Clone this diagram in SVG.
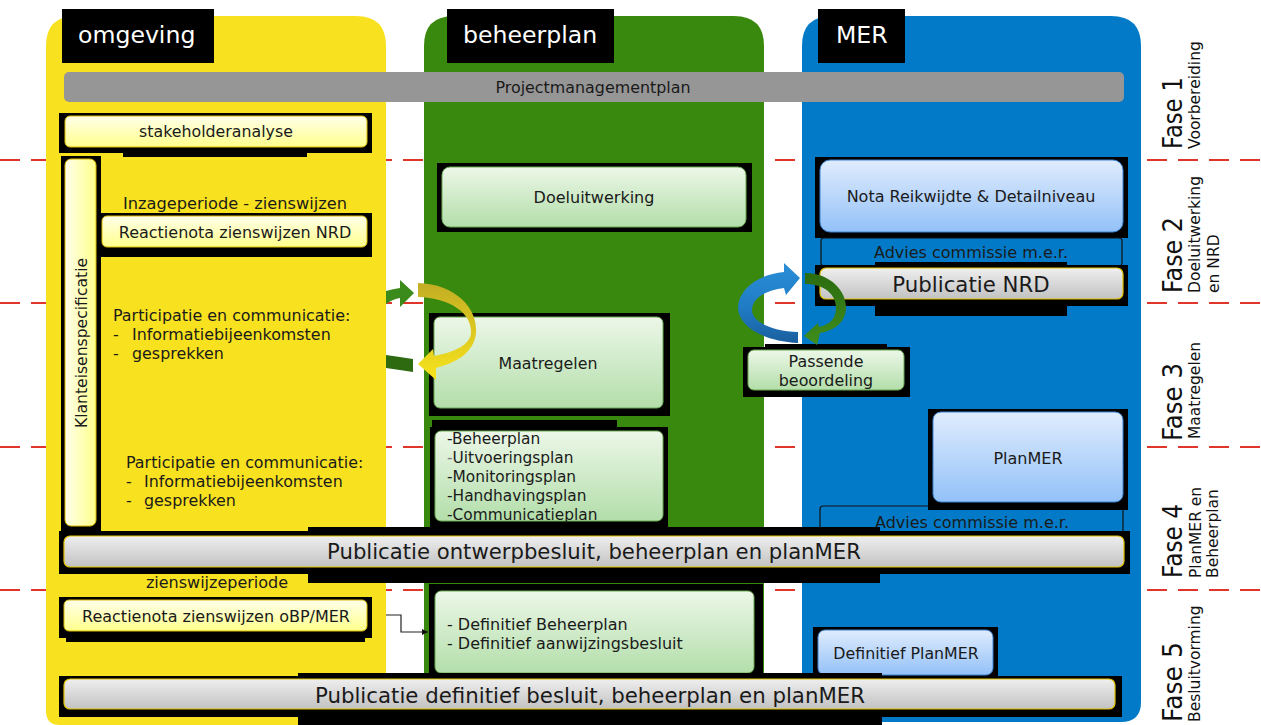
<svg xmlns="http://www.w3.org/2000/svg" width="1261" height="725" viewBox="0 0 1261 725">
<style>
.t{font-family:"DejaVu Sans",Verdana,sans-serif;fill:#1a1a1a}
.hd{font-family:"DejaVu Sans",Verdana,sans-serif;fill:#ffffff;font-size:23.6px}
.blk{fill:#000}
.by{fill:url(#gY);stroke:#dcbc00;stroke-width:1}
.bg{fill:url(#gG);stroke:#6aab52;stroke-width:1}
.bb{fill:url(#gB);stroke:#3a84d6;stroke-width:1}
.bgr{fill:url(#gGray);stroke:#e2c400;stroke-width:1.2}
.dash{stroke:#e0352b;stroke-width:2;stroke-dasharray:20 11;fill:none}
.fase{font-family:"DejaVu Sans",Verdana,sans-serif;fill:#111;font-size:26px}
.sub{font-family:"DejaVu Sans",Verdana,sans-serif;fill:#111;font-size:15.5px}
</style>
<defs>
<linearGradient id="gY" x1="0" y1="0" x2="0" y2="1"><stop offset="0" stop-color="#ffffea"/><stop offset="1" stop-color="#ffff8c"/></linearGradient>
<linearGradient id="gYv" x1="0" y1="0" x2="1" y2="0"><stop offset="0" stop-color="#ffffea"/><stop offset="1" stop-color="#ffff8c"/></linearGradient>
<linearGradient id="gG" x1="0" y1="0" x2="0" y2="1"><stop offset="0" stop-color="#ecf7e8"/><stop offset="1" stop-color="#b3deaa"/></linearGradient>
<linearGradient id="gB" x1="0" y1="0" x2="0" y2="1"><stop offset="0" stop-color="#e0ecfd"/><stop offset="1" stop-color="#93c1f8"/></linearGradient>
<linearGradient id="gGray" x1="0" y1="0" x2="0" y2="1"><stop offset="0" stop-color="#efefef"/><stop offset="1" stop-color="#c2c2c2"/></linearGradient>
<linearGradient id="gArcY" x1="0" y1="0" x2="0" y2="1"><stop offset="0" stop-color="#c2ad24"/><stop offset="1" stop-color="#f8e41c"/></linearGradient>
<linearGradient id="gArcB" x1="0" y1="0" x2="0" y2="1"><stop offset="0" stop-color="#2a8fd8"/><stop offset="0.55" stop-color="#1f7cc4"/><stop offset="1" stop-color="#1a5f9e"/></linearGradient>
<linearGradient id="gArcG" x1="0" y1="0" x2="0" y2="1"><stop offset="0" stop-color="#2c6c10"/><stop offset="1" stop-color="#3f8d1c"/></linearGradient>
<marker id="ah" markerWidth="8" markerHeight="8" refX="6" refY="3" orient="auto" markerUnits="userSpaceOnUse"><path d="M0,0 L6,3 L0,6 Z" fill="#111"/></marker>
</defs>

<g id="phase-lines">
<line class="dash" x1="0" y1="160" x2="1261" y2="160"/>
<line class="dash" x1="0" y1="303" x2="1261" y2="303"/>
<line class="dash" x1="0" y1="447" x2="1261" y2="447"/>
<line class="dash" x1="0" y1="590" x2="1261" y2="590"/>
</g>

<g id="lane-omgeving">
<path d="M46,46 Q46,16 76,16 H356 Q386,16 386,46 V711 Q386,725 372,725 H60 Q46,725 46,711 Z" fill="#f8e11f"/>
<rect class="blk" x="62" y="9" width="152" height="54"/>
<text class="hd" x="78" y="43">omgeving</text>
</g>
<g id="lane-beheerplan">
<path d="M424,46 Q424,16 454,16 H734 Q764,16 764,46 V700 H424 Z" fill="#3a890f"/>
<rect class="blk" x="447" y="9" width="167" height="54"/>
<text class="hd" x="463" y="43">beheerplan</text>
</g>
<g id="lane-mer">
<path d="M802,46 Q802,16 832,16 H1111 Q1141,16 1141,46 V702 Q1141,722 1121,722 H802 Z" fill="#027ac8"/>
<rect class="blk" x="818" y="9" width="87" height="54"/>
<text class="hd" x="836" y="43">MER</text>
</g>

<g id="projectmanagementplan">
<rect x="64" y="72" width="1060" height="30" rx="5" fill="#969696"/>
<text class="t" x="593" y="93" font-size="15.9" text-anchor="middle">Projectmanagementplan</text>
</g>

<g id="stakeholderanalyse">
<rect class="blk" x="59" y="113" width="313" height="40"/>
<rect class="blk" x="123" y="150" width="184" height="7"/>
<rect class="by" x="65" y="116" width="302" height="31" rx="5"/>
<text class="t" x="216" y="137" font-size="15.8" text-anchor="middle">stakeholderanalyse</text>
</g>

<g id="klanteisenspecificatie">
<rect class="blk" x="61" y="156" width="40" height="377"/>
<rect x="65" y="159" width="31" height="367" rx="6" fill="url(#gYv)" stroke="#dcbc00"/>
<text class="t" transform="translate(87,343) rotate(-90)" font-size="15.6" text-anchor="middle">Klanteisenspecificatie</text>
</g>

<g id="inzageperiode">
<text class="t" x="235" y="209" font-size="16.2" text-anchor="middle">Inzageperiode - zienswijzen</text>
</g>

<g id="reactienota-nrd">
<rect class="blk" x="101" y="213" width="271" height="44"/>
<rect class="by" x="102" y="216" width="265" height="31" rx="5"/>
<text class="t" x="235" y="237.5" font-size="16" text-anchor="middle">Reactienota zienswijzen NRD</text>
</g>

<g id="participatie-1">
<text class="t" font-size="15.9"><tspan x="113" y="321">Participatie en communicatie:</tspan><tspan x="113" y="340">-</tspan><tspan x="132" y="340">Informatiebijeenkomsten</tspan><tspan x="113" y="359">-</tspan><tspan x="132" y="359">gesprekken</tspan></text>
</g>

<g id="participatie-2">
<text class="t" font-size="15.9"><tspan x="126" y="468">Participatie en communicatie:</tspan><tspan x="126" y="487">-</tspan><tspan x="144" y="487">Informatiebijeenkomsten</tspan><tspan x="126" y="506">-</tspan><tspan x="144" y="506">gesprekken</tspan></text>
</g>

<g id="doeluitwerking">
<rect class="blk" x="437" y="163" width="315" height="69"/>
<rect class="bg" x="442" y="167" width="304" height="60" rx="8"/>
<text class="t" x="594" y="202.5" font-size="16" text-anchor="middle">Doeluitwerking</text>
</g>

<g id="maatregelen">
<rect class="blk" x="429" y="313" width="241" height="103"/>
<rect class="bg" x="434" y="317" width="229" height="91" rx="6"/>
<text class="t" x="548" y="368.5" font-size="15.8" text-anchor="middle">Maatregelen</text>
</g>

<g id="plannen">
<rect class="blk" x="432" y="420" width="185" height="8"/>
<rect class="blk" x="430" y="427" width="238" height="101"/>
<rect class="bg" x="435" y="431" width="228" height="90" rx="6"/>
<text class="t" font-size="15.4"><tspan x="447" y="444">-Beheerplan</tspan><tspan x="447" y="463"><tspan fill="#777">-</tspan>Uitvoeringsplan</tspan><tspan x="447" y="482">-Monitoringsplan</tspan><tspan x="447" y="501">-Handhavingsplan</tspan><tspan x="447" y="520">-Communicatieplan</tspan></text>
</g>

<g id="nota-reikwijdte">
<rect class="blk" x="815" y="157" width="313" height="81"/>
<rect class="bb" x="820" y="160" width="303" height="72" rx="10"/>
<text class="t" x="971" y="201.5" font-size="16" text-anchor="middle">Nota Reikwijdte &amp; Detailniveau</text>
</g>

<g id="advies-1">
<rect x="821" y="238" width="301" height="28" rx="3" fill="none" stroke="#111" stroke-width="1.2"/>
<text class="t" x="971" y="257.5" font-size="16" text-anchor="middle">Advies commissie m.e.r.</text>
</g>

<g id="publicatie-nrd">
<rect class="blk" x="875" y="262" width="192" height="5"/>
<rect class="blk" x="815" y="265" width="313" height="41"/>
<rect class="blk" x="875" y="304" width="192" height="12"/>
<rect class="bgr" x="820" y="268" width="303" height="31" rx="6"/>
<text class="t" x="971" y="292" font-size="21.3" text-anchor="middle">Publicatie NRD</text>
</g>

<g id="passende-beoordeling">
<rect class="blk" x="765" y="344" width="122" height="5"/>
<rect class="blk" x="743" y="347" width="167" height="50"/>
<rect class="bg" x="748" y="350" width="156" height="40" rx="6"/>
<text class="t" x="826" y="367" font-size="15.9" text-anchor="middle">Passende</text>
<text class="t" x="826" y="386" font-size="15.9" text-anchor="middle">beoordeling</text>
</g>

<g id="advies-2">
<rect x="820" y="506" width="303" height="30" rx="3" fill="none" stroke="#111" stroke-width="1.2"/>
<text class="t" x="972" y="527.5" font-size="16" text-anchor="middle">Advies commissie m.e.r.</text>
</g>

<g id="planmer">
<rect class="blk" x="928" y="409" width="200" height="101"/>
<rect class="bb" x="933" y="412" width="190" height="90" rx="8"/>
<text class="t" x="1028" y="463.5" font-size="16" text-anchor="middle">PlanMER</text>
</g>

<g id="publicatie-ontwerpbesluit">
<rect class="blk" x="59" y="531" width="1071" height="43"/>
<rect class="blk" x="308" y="527" width="572" height="56"/>
<rect class="bgr" x="64" y="536" width="1060" height="31" rx="6"/>
<text class="t" x="594" y="558.5" font-size="21.2" text-anchor="middle">Publicatie ontwerpbesluit, beheerplan en planMER</text>
</g>

<g id="zienswijzeperiode">
<text class="t" x="217" y="587.5" font-size="16" text-anchor="middle">zienswijzeperiode</text>
</g>

<g id="reactienota-obp">
<rect class="blk" x="59" y="597" width="313" height="41"/>
<rect class="blk" x="66" y="636" width="299" height="6"/>
<rect class="by" x="64" y="600" width="303" height="31" rx="5"/>
<text class="t" x="216" y="621.5" font-size="16" text-anchor="middle">Reactienota zienswijzen oBP/MER</text>
</g>

<g id="definitief-beheerplan">
<rect class="blk" x="429" y="584" width="334" height="92"/>
<rect class="bg" x="435" y="591" width="319" height="82" rx="6"/>
<text class="t" font-size="16"><tspan x="447" y="630">- Definitief Beheerplan</tspan><tspan x="447" y="649">- Definitief aanwijzingsbesluit</tspan></text>
</g>

<g id="definitief-planmer">
<rect class="blk" x="813" y="627" width="185" height="49"/>
<rect class="bb" x="818" y="630" width="175" height="45" rx="7"/>
<text class="t" x="906" y="659" font-size="15.8" text-anchor="middle">Definitief PlanMER</text>
</g>

<g id="publicatie-definitief">
<rect class="blk" x="59" y="676" width="1063" height="41"/>
<rect class="blk" x="298" y="673" width="584" height="52"/>
<rect class="bgr" x="64" y="679" width="1051" height="30" rx="6"/>
<text class="t" x="590" y="702.5" font-size="21.3" text-anchor="middle">Publicatie definitief besluit, beheerplan en planMER</text>
</g>

<g id="connectors">
<path d="M386,615 H401 V632 H428" fill="none" stroke="#222" stroke-width="1.2" marker-end="url(#ah)"/>
<path d="M386,291 Q393,289 400,288 L400,280 L414,293 L400,307 L400,298 Q393,299 386,304 Z" fill="#3b8a1c"/>
<path d="M386,355 Q400,357 413,359 L413,372 Q400,370 386,368 Z" fill="#2e6a10"/>
<path d="M418,283 C455,284 478,308 476,333 C474,352 458,362 436,368 L436,380 L418,364 L433,349 L434,356 C455,352 470,345 471,333 C472,313 450,298 418,297 Z" fill="url(#gArcY)"/>
<path d="M784,272 C760,274 739,288 738,307 C738,326 762,341 798,343 L798,332 C772,331 752,322 752,310 C752,298 766,290 784,288 L786,295 L800,278 L784,263 Z" fill="url(#gArcB)"/>
<path d="M805,273 C830,273 847,291 846,309 C845,322 836,330 820,333 L817,345 L804,336 L818,323 L819,327 C830,325 836,318 836,308 C836,294 824,284 805,284 Z" fill="url(#gArcG)"/>
</g>

<g id="phase-labels">
<text class="fase" transform="translate(1182,149) rotate(-90)" textLength="72" lengthAdjust="spacingAndGlyphs">Fase 1</text>
<text class="sub" transform="translate(1200,149) rotate(-90)">Voorbereiding</text>
<text class="fase" transform="translate(1182,293) rotate(-90)" textLength="76" lengthAdjust="spacingAndGlyphs">Fase 2</text>
<text class="sub" transform="translate(1200,293) rotate(-90)">Doeluitwerking</text>
<text class="sub" transform="translate(1219,293) rotate(-90)">en NRD</text>
<text class="fase" transform="translate(1182,441) rotate(-90)" textLength="78" lengthAdjust="spacingAndGlyphs">Fase 3</text>
<text class="sub" transform="translate(1200,439) rotate(-90)">Maatregelen</text>
<text class="fase" transform="translate(1182,578) rotate(-90)" textLength="74" lengthAdjust="spacingAndGlyphs">Fase 4</text>
<text class="sub" transform="translate(1201,578) rotate(-90)">PlanMER en</text>
<text class="sub" transform="translate(1218,578) rotate(-90)">Beheerplan</text>
<text class="fase" transform="translate(1182,722) rotate(-90)" textLength="80" lengthAdjust="spacingAndGlyphs">Fase 5</text>
<text class="sub" transform="translate(1200,722) rotate(-90)">Besluitvorming</text>
</g>
</svg>
